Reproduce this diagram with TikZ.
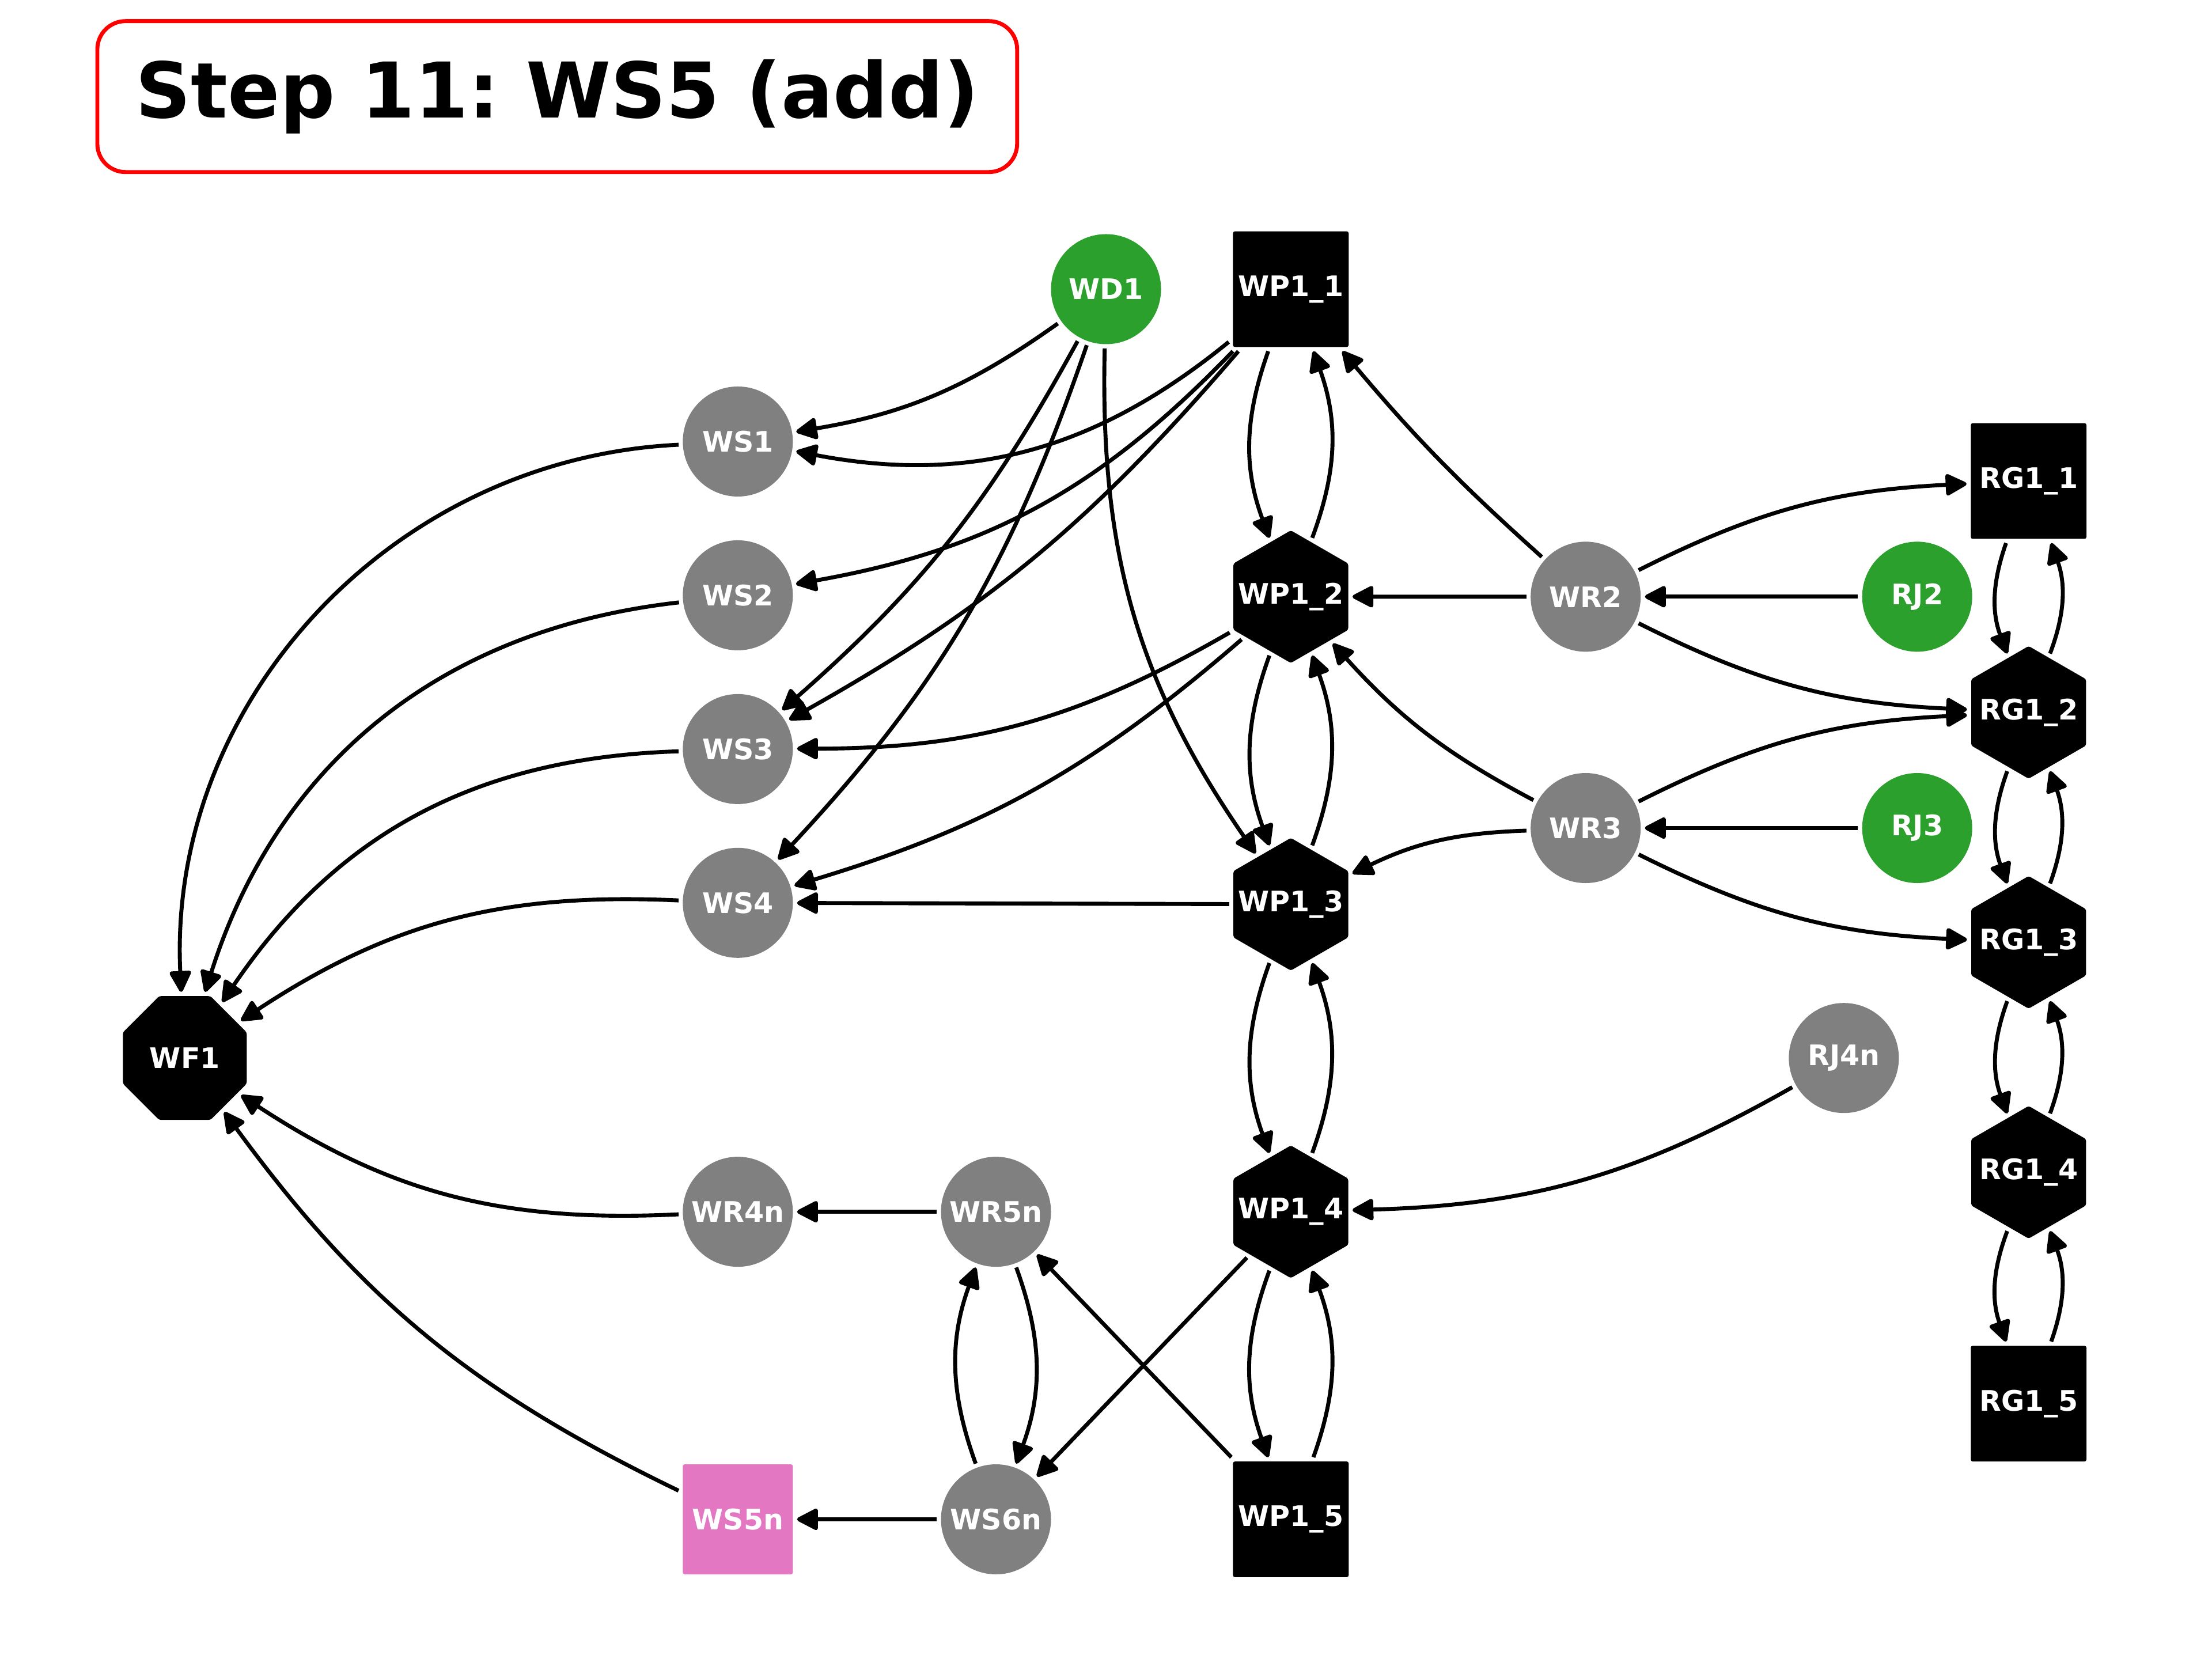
\documentclass[tikz,border=0pt]{standalone}
\usepackage{fontspec}
\setmainfont{DejaVu Sans}
\usetikzlibrary{shapes.geometric, arrows.meta}
\definecolor{nodegreen}{HTML}{2CA02C}
\definecolor{nodegray}{HTML}{808080}
\definecolor{nodepink}{HTML}{E377C2}
\newcommand{\polylabel}[1]{\makebox[0pt]{#1}}
\frenchspacing

\begin{document}
\begin{tikzpicture}
  % Styles des noeuds
  \tikzstyle{nodebase} = [text=white, font=\fontsize{5.7}{6.8}\selectfont\bfseries, inner sep=0pt, outer sep=0.3mm]
  \tikzstyle{graynode} = [nodebase, circle, minimum size=0.78cm, fill=nodegray]
  \tikzstyle{greennode} = [graynode, fill=nodegreen]
  \tikzstyle{blacksq} = [nodebase, rectangle, rounded corners=0.4pt, minimum size=0.82cm, fill=black]
  \tikzstyle{pinksq} = [blacksq, minimum size=0.78cm, fill=nodepink]
  \tikzstyle{blackhex} = [nodebase, regular polygon, regular polygon sides=6, shape border rotate=30, minimum size=0.94cm, rounded corners=0.4pt, fill=black]
  \tikzstyle{blackoct} = [nodebase, regular polygon, regular polygon sides=8, minimum size=0.95cm, rounded corners=0.4pt, fill=black]
  \tikzstyle{flow} = [-{Triangle[length=1.66mm, width=1.63mm, round]}, line width=0.8pt]

  \useasboundingbox (0,0) rectangle (15.68,11.76);

  % Title box
  \node[draw=red, line width=0.8pt, rounded corners=0.2cm, fill=white, minimum width=6.52cm, minimum height=1.07cm, font=\fontsize{15.5}{18}\selectfont\bfseries] (title) at (3.95,11.075) {Step 11: WS5 (add)};

  % Top row
  \node[greennode] (wd1) at (7.84,9.71) {WD1};
  \node[blacksq] (wp11) at (9.15,9.71) {WP1\_1};

  % WS column
  \node[graynode] (ws1) at (5.23,8.63) {WS1};
  \node[graynode] (ws2) at (5.23,7.54) {WS2};
  \node[graynode] (ws3) at (5.23,6.45) {WS3};
  \node[graynode] (ws4) at (5.23,5.36) {WS4};
  \node[graynode] (wr4n) at (5.23,3.17) {WR4n};
  \node[pinksq] (ws5n) at (5.23,0.99) {WS5n};
  \node[graynode] (wr5n) at (7.06,3.17) {WR5n};
  \node[graynode] (ws6n) at (7.06,0.99) {WS6n};

  \node[blackoct] (wf1) at (1.31,4.26) {\polylabel{WF1}};

  % WP1 column
  \node[blackhex] (wp12) at (9.15,7.53) {\polylabel{WP1\_2}};
  \node[blackhex] (wp13) at (9.15,5.35) {\polylabel{WP1\_3}};
  \node[blackhex] (wp14) at (9.15,3.17) {\polylabel{WP1\_4}};
  \node[blacksq] (wp15) at (9.15,0.99) {WP1\_5};

  % WR / RJ
  \node[graynode] (wr2) at (11.24,7.53) {WR2};
  \node[graynode] (wr3) at (11.24,5.89) {WR3};
  \node[greennode] (rj2) at (13.59,7.53) {RJ2};
  \node[greennode] (rj3) at (13.59,5.89) {RJ3};
  \node[graynode] (rj4n) at (13.07,4.26) {RJ4n};

  % RG1 column
  \node[blacksq] (rg11) at (14.38,8.35) {RG1\_1};
  \node[blackhex] (rg12) at (14.38,6.71) {\polylabel{RG1\_2}};
  \node[blackhex] (rg13) at (14.38,5.08) {\polylabel{RG1\_3}};
  \node[blackhex] (rg14) at (14.38,3.45) {\polylabel{RG1\_4}};
  \node[blacksq] (rg15) at (14.38,1.81) {RG1\_5};

  % Arrows from WD1 and WP1_1
  \draw[flow] (wd1) to[bend left=13] (ws1);
  \draw[flow] (wd1) to[bend left=10] (ws3);
  \draw[flow] (wd1) to[bend left=12] (ws4);
  \draw[flow] (wd1) to[bend right=18] (wp13);
  \draw[flow] (wp11) to[bend left=25] (ws1);
  \draw[flow] (wp11) to[bend left=18] (ws2);
  \draw[flow] (wp11) to[bend left=10] (ws3);
  \draw[flow] (wr2) to[bend left=4] (wp11);

  % Into WF1
  \draw[flow] (ws1) to[bend right=45] (wf1);
  \draw[flow] (ws2) to[bend right=33] (wf1);
  \draw[flow] (ws3) to[bend right=27] (wf1);
  \draw[flow] (ws4) to[bend right=18] (wf1);
  \draw[flow] (wr4n) to[bend left=18] (wf1);
  \draw[flow] (ws5n) to[bend left=14] (wf1);

  % Bottom part
  \draw[flow] (wr5n) -- (wr4n);
  \draw[flow] (ws6n) -- (ws5n);
  \draw[flow] (ws6n) to[bend left=20] (wr5n);
  \draw[flow] (wr5n) to[bend left=20] (ws6n);
  \draw[flow] (wp15) -- (wr5n);
  \draw[flow] (wp14) -- (ws6n);

  % WP1 chain
  \draw[flow] (wp12) to[bend left=15] (ws3);
  \draw[flow] (wp12) to[bend left=12] (ws4);
  \draw[flow] (wp13) -- (ws4);
  \draw[flow] (wp11) to[bend right=20] (wp12);
  \draw[flow] (wp12) to[bend right=20] (wp11);
  \draw[flow] (wp12) to[bend right=20] (wp13);
  \draw[flow] (wp13) to[bend right=20] (wp12);
  \draw[flow] (wp13) to[bend right=20] (wp14);
  \draw[flow] (wp14) to[bend right=20] (wp13);
  \draw[flow] (wp14) to[bend right=20] (wp15);
  \draw[flow] (wp15) to[bend right=20] (wp14);

  % WR2 / WR3
  \draw[flow] (wr2) -- (wp12);
  \draw[flow] (wr3) to[bend left=10] (wp12);
  \draw[flow] (wr3) to[bend right=12] (wp13);
  \draw[flow] (rj2) -- (wr2);
  \draw[flow] (rj3) -- (wr3);
  \draw[flow] (wr2) to[bend left=12] (rg11);
  \draw[flow] (wr2) to[bend right=12] (rg12);
  \draw[flow] (wr3) to[bend left=12] (rg12);
  \draw[flow] (wr3) to[bend right=12] (rg13);
  \draw[flow] (rj4n) to[bend left=14] (wp14);

  % RG1 chain
  \draw[flow] (rg11) to[bend right=20] (rg12);
  \draw[flow] (rg12) to[bend right=20] (rg11);
  \draw[flow] (rg12) to[bend right=20] (rg13);
  \draw[flow] (rg13) to[bend right=20] (rg12);
  \draw[flow] (rg13) to[bend right=20] (rg14);
  \draw[flow] (rg14) to[bend right=20] (rg13);
  \draw[flow] (rg14) to[bend right=20] (rg15);
  \draw[flow] (rg15) to[bend right=20] (rg14);

\end{tikzpicture}
\end{document}
